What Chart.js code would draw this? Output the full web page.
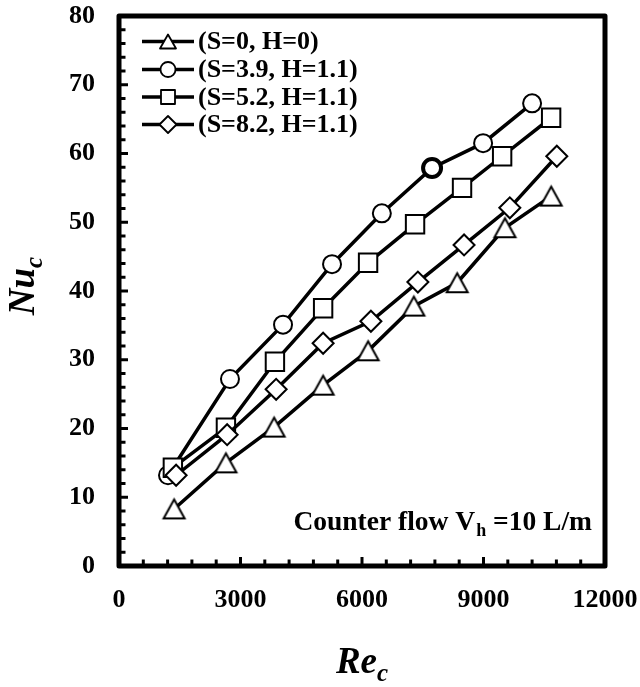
<!DOCTYPE html>
<html><head><meta charset="utf-8">
<script src="https://cdn.jsdelivr.net/npm/chart.js@4.4.0/dist/chart.umd.min.js"></script>
<style>html,body{margin:0;padding:0;background:#fff;}</style>
</head><body>
<canvas id="c" width="640" height="687"></canvas>
<script>
// ---- data ----
const seriesLabels = ['(S=0, H=0)', '(S=3.9, H=1.1)', '(S=5.2, H=1.1)', '(S=8.2, H=1.1)'];
const reS0  = [1360, 2640, 3830, 5040, 6150, 7280, 8350, 9530, 10670];
const nuS0  = [8.3, 15.0, 20.2, 26.3, 31.3, 37.8, 41.2, 49.2, 53.8];
const reS39 = [1210, 2740, 4050, 5260, 6490, 7730, 8990, 10200];
const nuS39 = [13.2, 27.2, 35.1, 43.9, 51.3, 57.9, 61.5, 67.3];
const reS52 = [1330, 2640, 3850, 5040, 6150, 7310, 8470, 9460, 10670];
const nuS52 = [14.3, 20.1, 29.7, 37.5, 44.1, 49.7, 55.0, 59.6, 65.2];
const reS82 = [1410, 2670, 3880, 5040, 6220, 7380, 8520, 9650, 10810];
const nuS82 = [13.2, 19.1, 25.7, 32.4, 35.6, 41.3, 46.7, 52.1, 59.6];
const xTicks = [0, 3000, 6000, 9000, 12000];
const yTicks = [0, 10, 20, 30, 40, 50, 60, 70, 80];
const xTitle = 'Re', yTitle = 'Nu', titleSub = 'c';
const noteMain = 'Counter flow V', noteSub = 'h', noteRest = ' =10 L/m';

const FONT = '"Liberation Serif", "Times New Roman", serif';
const zip = (xs, ys) => xs.map((x, i) => ({x, y: ys[i]}));

// triangle marker with bbox centred on the point (Excel-like)
function makeTri(w, h, lw) {
  const c = document.createElement('canvas');
  const pad = Math.ceil(lw) + 1;
  c.width = Math.ceil(w + 2 * pad); c.height = Math.ceil(h + 2 * pad);
  const g = c.getContext('2d');
  const cx = c.width / 2, cy = c.height / 2;
  g.beginPath();
  g.moveTo(cx, cy - h / 2); g.lineTo(cx + w / 2, cy + h / 2); g.lineTo(cx - w / 2, cy + h / 2); g.closePath();
  g.fillStyle = '#fff'; g.fill();
  g.lineWidth = lw; g.strokeStyle = '#000'; g.lineJoin = 'miter'; g.stroke();
  return c;
}
const triMarker = makeTri(21, 19, 2);

const base = {borderColor: '#000', borderWidth: 3.5, pointBackgroundColor: '#fff', pointBorderColor: '#000',
  pointBorderWidth: 2, showLine: true, fill: false, tension: 0};
const datasets = [
  Object.assign({}, base, {label: seriesLabels[0], data: zip(reS0, nuS0), pointStyle: triMarker, pointRadius: 11, order: 3}),
  Object.assign({}, base, {label: seriesLabels[1], data: zip(reS39, nuS39), pointStyle: 'circle', pointRadius: 9, order: 2,
    pointBorderWidth: c => (c.dataIndex === 5 ? 4 : 2)}),
  Object.assign({}, base, {label: seriesLabels[2], data: zip(reS52, nuS52), pointStyle: 'rect', pointRadius: 13, order: 1}),
  Object.assign({}, base, {label: seriesLabels[3], data: zip(reS82, nuS82), pointStyle: 'rectRot', pointRadius: 10.5, order: 0})
];
const legendStyles = ['tri', 'circle', 'rect', 'diamond'];

function legendMarker(ctx, st, x, y) {
  ctx.beginPath();
  if (st === 'tri') { ctx.moveTo(x, y - 7); ctx.lineTo(x + 8, y + 7); ctx.lineTo(x - 8, y + 7); ctx.closePath(); }
  else if (st === 'circle') { ctx.arc(x, y, 7.5, 0, Math.PI * 2); }
  else if (st === 'rect') { ctx.rect(x - 7, y - 7, 14, 14); }
  else { ctx.moveTo(x, y - 8.5); ctx.lineTo(x + 8.5, y); ctx.lineTo(x, y + 8.5); ctx.lineTo(x - 8.5, y); ctx.closePath(); }
  ctx.fillStyle = '#fff'; ctx.fill();
  ctx.lineWidth = 1.8; ctx.strokeStyle = '#000'; ctx.stroke();
}

const deco = {
  id: 'deco',
  afterDraw(chart) {
    const ctx = chart.ctx, a = chart.chartArea, xs = chart.scales.x, ys = chart.scales.y;
    ctx.save();
    ctx.strokeStyle = '#000'; ctx.fillStyle = '#000'; ctx.lineCap = 'butt';
    // inward ticks
    ctx.lineWidth = 3;
    for (let v = 600; v < xs.max; v += 600) {
      const px = xs.getPixelForValue(v);
      const len = v % 3000 === 0 ? 9 : 6.5;
      ctx.beginPath(); ctx.moveTo(px, a.bottom); ctx.lineTo(px, a.bottom - len); ctx.stroke();
    }
    for (let v = 2; v < ys.max; v += 2) {
      const py = ys.getPixelForValue(v);
      const len = v % 10 === 0 ? 9 : 6.5;
      ctx.beginPath(); ctx.moveTo(a.left, py); ctx.lineTo(a.left + len, py); ctx.stroke();
    }
    // frame
    ctx.lineWidth = 5; ctx.lineJoin = 'round';
    ctx.strokeRect(a.left, a.top, a.right - a.left, a.bottom - a.top);

    // legend
    const rows = [41.5, 69.5, 97, 124.5];
    chart.data.datasets.forEach((ds, i) => {
      const y = rows[i];
      ctx.lineWidth = 3.5; ctx.strokeStyle = '#000';
      ctx.beginPath(); ctx.moveTo(142, y); ctx.lineTo(194, y); ctx.stroke();
      legendMarker(ctx, legendStyles[i], 168, y);
      ctx.fillStyle = '#000'; ctx.font = 'bold 26px ' + FONT;
      ctx.textAlign = 'left'; ctx.textBaseline = 'middle';
      ctx.fillText(ds.label, 198, y + 1);
    });

    // annotation
    ctx.textBaseline = 'alphabetic'; ctx.textAlign = 'left';
    const fMain = 'bold 27.5px ' + FONT, fSub = 'bold 18px ' + FONT;
    ctx.font = fMain; const w1 = ctx.measureText(noteMain).width, w3 = ctx.measureText(noteRest).width;
    ctx.font = fSub; const w2 = ctx.measureText(noteSub).width;
    let nx = 592 - (w1 + w2 + w3 + 1);
    const ny = 530;
    ctx.font = fMain; ctx.fillText(noteMain, nx, ny);
    ctx.font = fSub; ctx.fillText(noteSub, nx + w1 + 1, ny + 6);
    ctx.font = fMain; ctx.fillText(noteRest, nx + w1 + w2 + 1, ny);

    // x title
    const tMain = 'bold italic 37px ' + FONT, tSub = 'bold italic 25px ' + FONT;
    ctx.font = tMain; const rw = ctx.measureText(xTitle).width;
    ctx.font = tSub; const cw = ctx.measureText(titleSub).width;
    const cx = (a.left + a.right) / 2;
    let tx = cx - (rw + cw) / 2;
    ctx.font = tMain; ctx.fillText(xTitle, tx, 673);
    ctx.font = tSub; ctx.fillText(titleSub, tx + rw, 681);

    // y title (rotated)
    ctx.font = tMain; const nw = ctx.measureText(yTitle).width;
    ctx.font = tSub; const cw2 = ctx.measureText(titleSub).width;
    ctx.translate(34, 286 + (nw + cw2) / 2);
    ctx.rotate(-Math.PI / 2);
    ctx.font = tMain; ctx.fillText(yTitle, 0, 0);
    ctx.font = tSub; ctx.fillText(titleSub, nw, 8);
    ctx.restore();
  }
};

const zeroPad = s => { s.paddingTop = 0; s.paddingBottom = 0; s.paddingLeft = 0; s.paddingRight = 0; };

new Chart(document.getElementById('c'), {
  type: 'scatter',
  data: {datasets},
  options: {
    responsive: false, animation: false, devicePixelRatio: 1,
    layout: {padding: {top: 16, right: 35, left: 0, bottom: 0}},
    plugins: {legend: {display: false}, tooltip: {enabled: false}},
    scales: {
      x: {type: 'linear', min: 0, max: 12000,
        afterBuildTicks: s => { s.ticks = xTicks.map(v => ({value: v})); },
        afterFit: s => { s.height = 121; zeroPad(s); },
        grid: {display: false, drawTicks: false}, border: {display: false},
        ticks: {color: '#000', padding: 19, maxRotation: 0, autoSkip: false,
          font: {family: FONT, size: 26, weight: 'bold'}, callback: v => String(v)}},
      y: {type: 'linear', min: 0, max: 80,
        afterBuildTicks: s => { s.ticks = yTicks.map(v => ({value: v})); },
        afterFit: s => { s.width = 119; zeroPad(s); },
        grid: {display: false, drawTicks: false}, border: {display: false},
        ticks: {color: '#000', padding: 24, autoSkip: false,
          font: {family: FONT, size: 26, weight: 'bold'}, callback: v => String(v)}}
    }
  },
  plugins: [deco]
});
</script>
</body></html>
